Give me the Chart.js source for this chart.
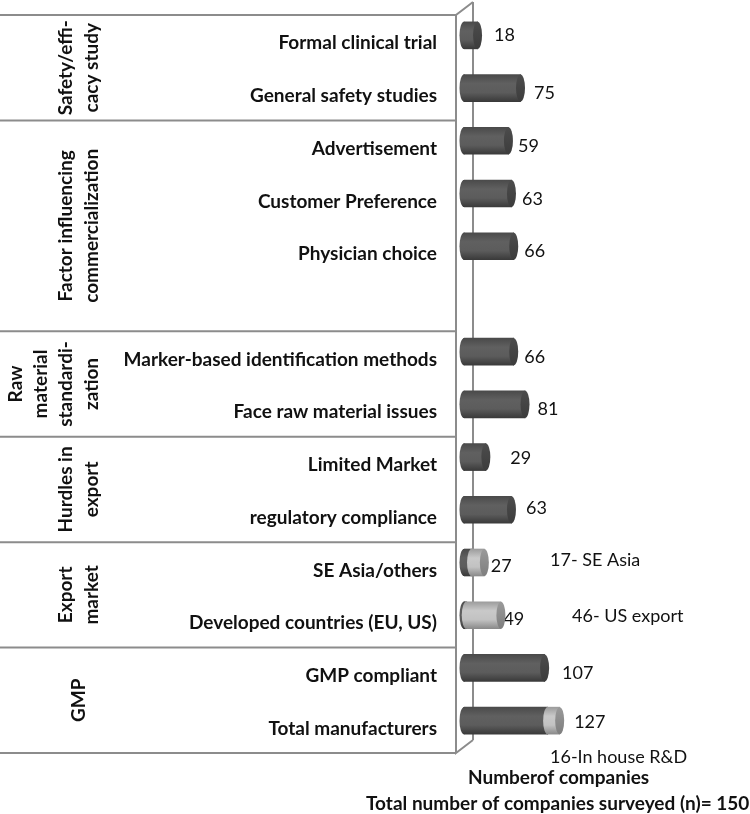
<!DOCTYPE html>
<html>
<head>
<meta charset="utf-8">
<title>Companies surveyed</title>
<script src="https://cdn.jsdelivr.net/npm/chart.js@4"></script>
<style>
  html, body { margin: 0; padding: 0; background: #fff; }
  canvas { display: block; }
</style>
</head>
<body>
<canvas id="myChart" width="750" height="814"></canvas>
<script>
const categories = ['Formal clinical trial', 'General safety studies', 'Advertisement', 'Customer Preference',
    'Physician choice', '', 'Marker-based identification methods', 'Face raw material issues', 'Limited Market',
    'regulatory compliance', 'SE Asia/others', 'Developed countries (EU, US)', 'GMP compliant', 'Total manufacturers'];
const darkValues = [18, 75, 59, 63, 66, null, 66, 81, 29, 63, 10, 3, 107, 111];
const lightValues = [0, 0, 0, 0, 0, null, 0, 0, 0, 0, 17, 46, 0, 16];
const totals = [18, 75, 59, 63, 66, null, 66, 81, 29, 63, 27, 49, 107, 127];

const groupNames = [['Safety/effi-', 'cacy study'], ['Factor influencing', 'commercialization'],
    ['Raw', 'material', 'standardi-', 'zation'], ['Hurdles in', 'export'], ['Export', 'market'], ['GMP']];
const groupSizes = [2, 4, 2, 2, 2, 2];

// hand placed bits, the source figure has these nudged around by hand
const totalShift = [[12, 0], [9, 5], [5, 5], [6, 6], [6, 5], null, [6, 6], [8, 5], [20, 1], [10, -2], [2, 4], [-2, 4], [13, 5], [10, 2]];
const sideNotes = [['17- SE Asia', 550, 560], ['46- US export', 572, 616], ['16-In house R&D', 550, 757]];
const axisNotes = [['Numberof companies', 468, 778], ['Total number of companies surveyed (n)= 150', 366, 804]];
const groupLineX = [66, 92];

const BAR_H = 27;
const CAP_RX = 4.5;
const DEPTH = 8.5;
const WALL = '#8c8c8c';
const FONT = 'Lato, "Open Sans", sans-serif';

function bodyGradient(chart, i, stops) {
    const y = chart.scales.y ? chart.scales.y.getPixelForValue(i) : NaN;
    if (!isFinite(y)) return stops[1];
    const g = chart.ctx.createLinearGradient(0, y - BAR_H / 2, 0, y + BAR_H / 2);
    stops.forEach((c, n) => g.addColorStop(n / (stops.length - 1), c));
    return g;
}
const darkBody = ['#4a4a4a', '#606060', '#5c5c5c', '#3a3a3a'];
const lightBody = ['#9c9c9c', '#c9c9c9', '#c2c2c2', '#8a8a8a'];
const darkCap = ['#4c4c4c', '#3c3c3c'];
const lightCap = ['#9a9a9a', '#7e7e7e'];

const cylinderEnds = {
    id: 'cylinderEnds',
    afterDatasetsDraw(chart) {
        const ctx = chart.ctx;
        const ry = BAR_H / 2;
        // dark segment first so the light one's curved edge sits on top of it
        chart.data.datasets.forEach((ds, index) => {
            const isDark = index === 0;
            chart.getDatasetMeta(index).data.forEach((bar, i) => {
                if (!ds.data[i]) return;
                ctx.save();
                ctx.fillStyle = bodyGradient(chart, i, isDark ? darkBody : lightBody);
                ctx.beginPath();
                ctx.ellipse(bar.base, bar.y, CAP_RX, ry, 0, Math.PI / 2, Math.PI * 1.5);
                ctx.fill();
                // covers the seam left between the curve and the bar
                ctx.fillRect(bar.base - 1, bar.y - ry, 2, BAR_H);
                if (!isDark || !lightValues[i]) {
                    ctx.fillStyle = bodyGradient(chart, i, isDark ? darkCap : lightCap);
                    ctx.beginPath();
                    ctx.ellipse(bar.x, bar.y, CAP_RX, ry, 0, 0, Math.PI * 2);
                    ctx.fill();
                }
                ctx.restore();
            });
        });
    }
};

const frame = {
    id: 'frame',
    beforeDatasetsDraw(chart) {
        const ctx = chart.ctx;
        const a = chart.chartArea;
        const x0 = chart.scales.x.getPixelForValue(0);
        const back = x0 + DEPTH + 0.5, front = x0 - DEPTH + 0.5;
        ctx.save();
        ctx.strokeStyle = WALL;
        ctx.lineWidth = 2;
        ctx.beginPath();
        ctx.moveTo(back, a.top - 7);
        ctx.lineTo(back, a.bottom - 7);
        ctx.moveTo(back, a.top - 7);
        ctx.lineTo(front, a.top + 6);
        ctx.lineTo(front, a.bottom + 6);
        ctx.lineTo(back, a.bottom - 7);
        // lines between groups
        let n = 0;
        const yAt = k => chart.scales.y.getPixelForValue(k - 0.5) + 6;
        ctx.moveTo(0, yAt(0));
        ctx.lineTo(front, yAt(0));
        groupSizes.forEach(s => {
            n += s;
            ctx.moveTo(0, yAt(n));
            ctx.lineTo(front, yAt(n));
        });
        ctx.stroke();
        ctx.restore();
    },
    afterDatasetsDraw(chart) {
        const ctx = chart.ctx;
        const sy = chart.scales.y, sx = chart.scales.x;
        ctx.save();
        ctx.fillStyle = '#111';
        ctx.textBaseline = 'middle';

        // totals at the bar ends
        ctx.font = '18px ' + FONT;
        ctx.textAlign = 'left';
        totals.forEach((t, i) => {
            if (t === null) return;
            const s = totalShift[i];
            ctx.fillText(String(t), sx.getPixelForValue(t) + CAP_RX + s[0], sy.getPixelForValue(i) + s[1]);
        });
        sideNotes.forEach(n => ctx.fillText(n[0], n[1], n[2]));

        ctx.font = 'bold 19px ' + FONT;
        axisNotes.forEach(n => ctx.fillText(n[0], n[1], n[2]));

        // rotated group names
        ctx.textAlign = 'center';
        let n = 0;
        groupNames.forEach((lines, g) => {
            const mid = (sy.getPixelForValue(n - 0.5) + sy.getPixelForValue(n + groupSizes[g] - 0.5)) / 2 + 6;
            n += groupSizes[g];
            let xs = groupLineX;
            if (lines.length === 4) xs = [16, 41, 66, 92];
            if (lines.length === 1) xs = [79];
            lines.forEach((txt, k) => {
                ctx.save();
                ctx.translate(xs[k], mid);
                ctx.rotate(-Math.PI / 2);
                ctx.fillText(txt, 0, 0);
                ctx.restore();
            });
        });
        ctx.restore();
    }
};

const chart = new Chart(document.getElementById('myChart').getContext('2d'), {
    type: 'bar',
    data: {
        labels: categories,
        datasets: [
            {
                label: 'Companies',
                data: darkValues,
                barThickness: BAR_H,
                backgroundColor: c => bodyGradient(c.chart, c.dataIndex, darkBody)
            },
            {
                label: 'Subset',
                data: lightValues,
                barThickness: BAR_H,
                backgroundColor: c => bodyGradient(c.chart, c.dataIndex, lightBody)
            }
        ]
    },
    options: {
        indexAxis: 'y',
        responsive: false,
        animation: false,
        layout: { padding: { top: 9, bottom: 67, right: 173, left: 0 } },
        plugins: { legend: { display: false }, tooltip: { enabled: false } },
        scales: {
            x: {
                display: false,
                stacked: true,
                min: 0,
                max: 150
            },
            y: {
                stacked: true,
                grid: { display: false, drawTicks: false },
                border: { display: false },
                afterFit(scale) {
                    scale.width = 464;
                    // tick padding would otherwise push the top of the plot down
                    scale.paddingTop = 0;
                    scale.paddingBottom = 0;
                },
                ticks: {
                    autoSkip: false,
                    padding: 27,
                    labelOffset: 8,
                    color: '#111',
                    font: { family: FONT, size: 19, weight: 'bold' }
                }
            }
        }
    },
    plugins: [frame, cylinderEnds]
});
</script>
</body>
</html>
